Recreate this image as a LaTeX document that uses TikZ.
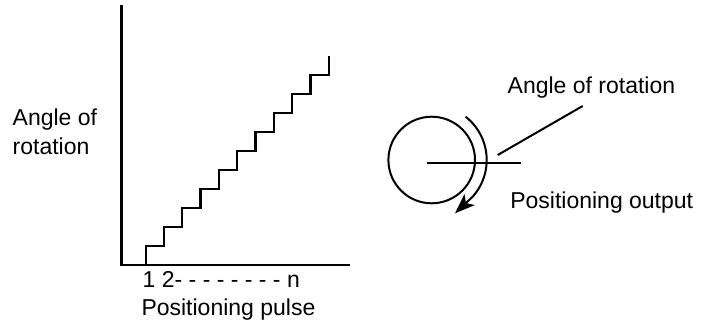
\documentclass[tikz,border=0pt]{standalone}
\usepackage{fontspec}
\setmainfont{Liberation Sans}
\usetikzlibrary{arrows.meta}

\begin{document}
\begin{tikzpicture}[x=0.5pt, y=-0.5pt, line width=1pt,
    font=\fontsize{11.5}{14.5}\selectfont,
    lbl/.style={inner sep=0pt, anchor=base west},
    stair/.style={line width=1.15pt, line join=miter},
    axis/.style={line width=1.3pt}]
	\useasboundingbox (0,0) rectangle (703,327);
	% staircase plot
	\coordinate (o) at (121.7,265);
	\draw[axis] (121.7,5) -- (o) -- (350,265);
	\draw[stair] (145.7,265) \foreach \i in {1,...,10} { -- ++(0,-19) -- ++(18.3,0) } -- ++(0,-19);
	\node[lbl, align=left] (ylab) at (11.7,154.5) {Angle of\\rotation};
	\node[lbl] (ticks) at (141.7,287.5) {1 2- - - - - - - - n};
	\node[lbl] (xlab) at (140.5,315) {Positioning pulse};
	% rotating shaft
	\coordinate (c) at (431.7,160);
	\coordinate (tip) at (455,213.3);
	\draw (c) circle[radius=43.3];
	\draw (426.7,162.7) -- (520.7,162.7);
	\draw[-{Stealth[length=10pt,width=7.5pt,inset=2.5pt]}] (c) ++(-52:55) arc[start angle=-52, end angle=42, radius=55] -- (tip);
	\node[lbl] (ang) at (506.7,93) {Angle of rotation};
	\coordinate (lead) at (497.7,155);
	\draw (lead) -- (582.7,106);
	\node[lbl] (out) at (509.3,208.5) {Positioning output};
\end{tikzpicture}
\end{document}
